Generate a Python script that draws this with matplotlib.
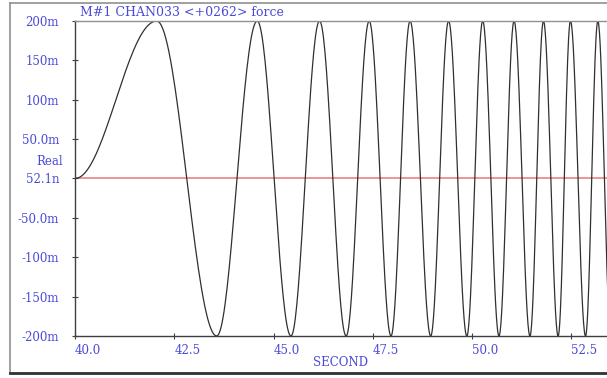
import matplotlib
matplotlib.use('Agg')
import matplotlib.pyplot as plt
import numpy as np
from matplotlib.lines import Line2D

# extrema of the trace (seconds, value)
t_ext = [40.0, 42.06, 43.57, 44.59, 45.44, 46.16, 46.83, 47.41, 47.96, 48.44, 48.96,
         49.41, 49.87, 50.27, 50.68, 51.06, 51.46, 51.80, 52.17, 52.48, 52.86, 53.17, 53.50]
v_ext = [0.0, 0.2, -0.2, 0.2, -0.2, 0.2, -0.2, 0.2, -0.2, 0.2, -0.2,
         0.2, -0.2, 0.2, -0.2, 0.2, -0.2, 0.2, -0.2, 0.2, -0.2, 0.2, -0.2]
ref_level = 52.1e-9

yticks = [0.2, 0.15, 0.1, 0.05, 0.0, -0.05, -0.1, -0.15, -0.2]
ylabels = ['200m', '150m', '100m', '50.0m', '52.1n', '-50.0m', '-100m', '-150m', '-200m']
xticks = [40.0, 42.5, 45.0, 47.5, 50.0, 52.5]
xlabels = ['40.0', '42.5', '45.0', '47.5', '50.0', '52.5']

blue = '#4a4ad8'
font = ['DejaVu Serif']

# smooth half-cosine arcs between the extrema
xs, ys = [], []
for i in range(len(t_ext) - 1):
    s = np.linspace(0, 1, 40)
    xs.append(t_ext[i] + (t_ext[i+1] - t_ext[i]) * s)
    ys.append(v_ext[i] + (v_ext[i+1] - v_ext[i]) * (1 - np.cos(np.pi * s)) / 2)
xs = np.concatenate(xs)
ys = np.concatenate(ys)

fig = plt.figure(figsize=(6.07, 3.78), dpi=100)
px = 1 / 607
ax = fig.add_axes([75 * px, 1 - 336 / 378, 39.7 * 14 * px, (336 - 21) / 378])
ax.set_xlim(40, 54)
ax.set_ylim(-0.2, 0.2)

ax.axhline(ref_level, color='#e87878', lw=1.1, zorder=1)
ax.plot(xs, ys, color='#303030', lw=0.9, zorder=2)

ax.set_xticks(xticks)
ax.set_xticklabels(xlabels)
ax.set_yticks(yticks)
ax.set_yticklabels(ylabels)
ax.tick_params(direction='inout', length=5, width=0.8, color='#404040',
               labelcolor=blue, labelsize=8.5)
ax.tick_params(axis='y', pad=9)
ax.tick_params(axis='x', pad=3)
for lab in ax.get_xticklabels() + ax.get_yticklabels():
    lab.set_family(font)
for lab in ax.get_xticklabels():
    lab.set_ha('left')
ax.text(-0.022, 0.021, 'Real', transform=ax.get_yaxis_transform(),
        ha='right', va='center', color=blue, fontsize=8.5, family=font)

for side in ['left', 'bottom']:
    ax.spines[side].set_color('#404040')
    ax.spines[side].set_linewidth(1.0)
ax.spines['top'].set_color('#909090')
ax.spines['top'].set_linewidth(1.0)
ax.spines['right'].set_visible(False)

fig.text(80 * px, 1 - 13 / 378, 'M#1 CHAN033 <+0262> force', color=blue,
         fontsize=9, family=font, ha='left', va='center')
fig.text(340 * px, 1 - 362 / 378, 'SECOND', color=blue, fontsize=8.5,
         family=font, ha='center', va='center')

# outer window frame
fig.add_artist(Line2D([10 * px, 10 * px], [1 - 373 / 378, 1 - 3 / 378],
                      transform=fig.transFigure, color='#909090', lw=1.2))
fig.add_artist(Line2D([10 * px, 1], [1 - 3 / 378, 1 - 3 / 378],
                      transform=fig.transFigure, color='#909090', lw=1.2))
fig.add_artist(Line2D([10 * px, 1], [1 - 373 / 378, 1 - 373 / 378],
                      transform=fig.transFigure, color='#303030', lw=2.0))

fig.savefig('out.png', dpi=100)
